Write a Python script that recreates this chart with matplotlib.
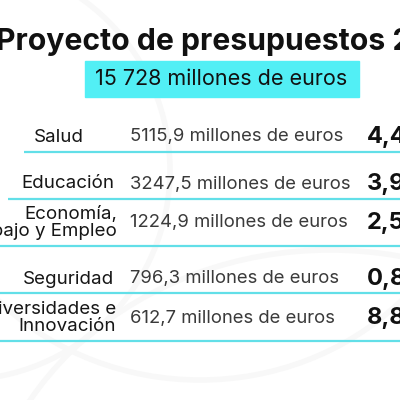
import numpy as np
import matplotlib.pyplot as plt
from matplotlib.patches import Rectangle, Arc

# datos
titulo = "Proyecto de presupuestos 2024"
total = "15 728"
categorias = ["Salud", "Educación", "Economía,\nTrabajo y Empleo", "Seguridad", "Universidades e\nInnovación"]
importes = [5115.9, 3247.5, 1224.9, 796.3, 612.7]
variaciones = ["4,4%", "3,9%", "2,5%", "0,8%", "8,8%"]

# layout (pixels)
row_y = [137, 184, 223, 279, 318]
line_y = [151.5, 199, 246, 293, 340.5]
line_x0 = [24, 8, 0, 0, 0]
label_x = [84, 114, 117, 114, 116]

cyan_box = "#52eff5"
cyan_line = "#62dfe8"

plt.rcParams['font.family'] = ['Inter', 'DejaVu Sans']

fig = plt.figure(figsize=(4, 4), dpi=100)
ax = fig.add_axes([0, 0, 1, 1])
ax.set_xlim(0, 400)
ax.set_ylim(400, 0)
ax.axis('off')

# faint background arcs
for (cx, cy, w, h) in [(330, 560, 700, 620), (-40, 170, 420, 420), (200, 120, 560, 520)]:
    ax.add_patch(Arc((cx, cy), w, h, color="#f8f8f8", lw=4, zorder=0))

ax.text(-4, 42, titulo, fontsize=21.7, fontweight='bold', color="#111111", va='center', ha='left')

ax.add_patch(Rectangle((85, 61), 274, 36, color=cyan_box, zorder=1))
ax.text(95, 79, total + " millones de euros", fontsize=15.5, color="#111111", va='center', ha='left', zorder=2)

for i in range(len(categorias)):
    ax.text(label_x[i], row_y[i], categorias[i], fontsize=13.5, color="#161616",
            va='center', ha='right', multialignment='right', linespacing=1.0)
    imp = f"{importes[i]:.1f}".replace(".", ",")
    ax.text(130, row_y[i], imp + " millones de euros", fontsize=13.3, color="#3a3a3a",
            va='center', ha='left')
    ax.text(367, row_y[i], variaciones[i], fontsize=17, fontweight='bold', color="#111111",
            va='center', ha='left')
    ax.plot([line_x0[i], 400], [line_y[i], line_y[i]], color=cyan_line, lw=1.6, solid_capstyle='butt')

fig.savefig("out.png", dpi=100)
